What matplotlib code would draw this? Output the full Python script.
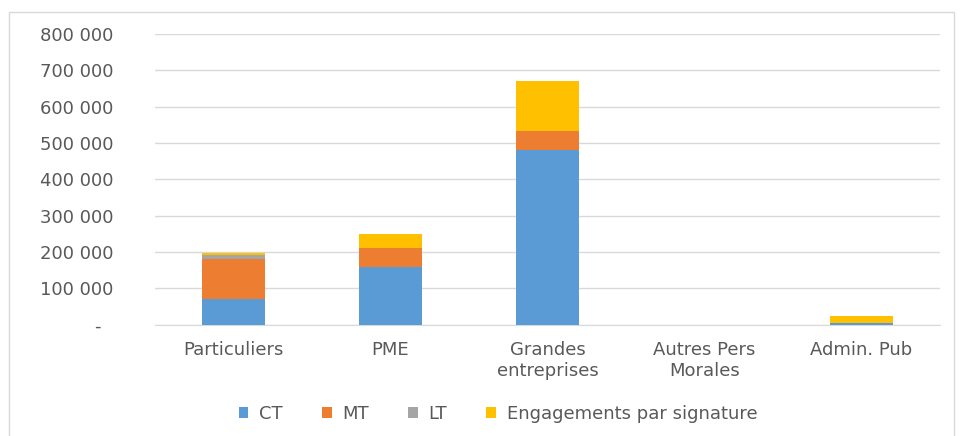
import matplotlib
matplotlib.use("Agg")
import matplotlib.pyplot as plt
from matplotlib.patches import Rectangle
import numpy as np

categories = ["Particuliers", "PME", "Grandes\nentreprises", "Autres Pers\nMorales", "Admin. Pub"]
ct = [70000, 160000, 480000, 0, 4000]
mt = [111000, 50000, 52000, 0, 0]
lt = [12000, 0, 0, 0, 0]
sig = [5000, 40000, 138000, 0, 19000]
series_names = ["CT", "MT", "LT", "Engagements par signature"]
colors = ["#5B9BD5", "#ED7D31", "#A5A5A5", "#FFC000"]
yticks = [0, 100000, 200000, 300000, 400000, 500000, 600000, 700000, 800000]
ytick_labels = ["-  ", "100 000", "200 000", "300 000", "400 000", "500 000", "600 000", "700 000", "800 000"]

plt.rcParams['font.family'] = ['DejaVu Sans']
fig = plt.figure(figsize=(9.63, 4.36), dpi=100)
ax = fig.add_axes([0.161, 0.255, 0.815, 0.667])

x = np.arange(len(categories))
bottom = np.zeros(len(categories))
for vals, name, c in zip([ct, mt, lt, sig], series_names, colors):
    ax.bar(x, vals, 0.4, bottom=bottom, color=c, label=name, zorder=3)
    bottom += np.array(vals)

ax.set_ylim(0, 800000)
ax.set_xlim(-0.5, len(categories) - 0.5)
ax.set_yticks(yticks)
ax.set_yticklabels(ytick_labels)
ax.set_xticks(x)
ax.set_xticklabels(categories)
ax.yaxis.grid(True, color="#D9D9D9", linewidth=1, zorder=0)
for s in ax.spines.values():
    s.set_visible(False)
ax.spines['bottom'].set_visible(True)
ax.spines['bottom'].set_color("#D9D9D9")
ax.tick_params(axis='both', length=0, colors="#595959", labelsize=13)
ax.tick_params(axis='y', pad=30)
ax.tick_params(axis='x', pad=12)
for lbl in ax.get_xticklabels():
    lbl.set_linespacing(1.2)
for lbl in ax.get_yticklabels():
    lbl.set_horizontalalignment('right')

leg = ax.legend(loc='center', bbox_to_anchor=(0.437, -0.307), ncol=4, frameon=False,
                fontsize=13, handlelength=0.55, handleheight=0.55, columnspacing=2.15, handletextpad=0.6)
for t in leg.get_texts():
    t.set_color("#595959")

fig.patches.append(Rectangle((0.009, -0.01), 0.982, 0.983, transform=fig.transFigure,
                             fill=False, edgecolor="#D9D9D9", linewidth=1))
fig.savefig("out.png", dpi=100)
